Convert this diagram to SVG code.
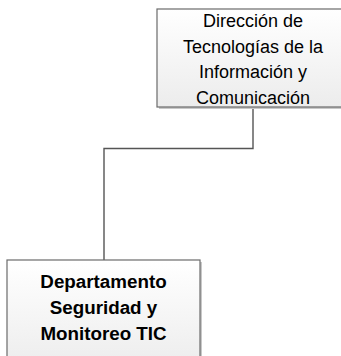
<svg xmlns="http://www.w3.org/2000/svg" width="341" height="356" viewBox="0 0 341 356">
<defs>
<linearGradient id="g" x1="0" y1="0" x2="0" y2="1">
<stop offset="0" stop-color="#ffffff"/>
<stop offset="1" stop-color="#ececec"/>
</linearGradient>
<style>
.box{fill:url(#g);stroke:#6b6b6b;stroke-width:1.2}
.sh{fill:#c8c8c8}
.t{font-family:"Liberation Sans",Arial,sans-serif;font-size:18px;fill:#000;text-anchor:middle}
.b{font-weight:bold;font-size:18.8px}
.c{fill:none;stroke:#555;stroke-width:1.4}
</style>
</defs>
<rect width="341" height="356" fill="#fff"/>
<g id="connectors">
<path class="c" d="M253 107 V148.5 H104 V260"/>
</g>
<g id="node-direccion">
<rect class="sh" x="159" y="11" width="192" height="98"/>
<rect class="box" x="157" y="9" width="192" height="98"/>
<text class="t" x="253" y="27">Dirección de</text>
<text class="t" x="253" y="52.5">Tecnologías de la</text>
<text class="t" x="253" y="78">Información y</text>
<text class="t" x="253" y="103.5">Comunicación</text>
</g>
<g id="node-departamento">
<rect class="sh" x="9" y="262" width="193" height="110"/>
<rect class="box" x="7" y="260" width="193" height="110"/>
<text class="t b" x="103.5" y="288">Departamento</text>
<text class="t b" x="103.5" y="314">Seguridad y</text>
<text class="t b" x="103.5" y="340">Monitoreo TIC</text>
</g>
</svg>
